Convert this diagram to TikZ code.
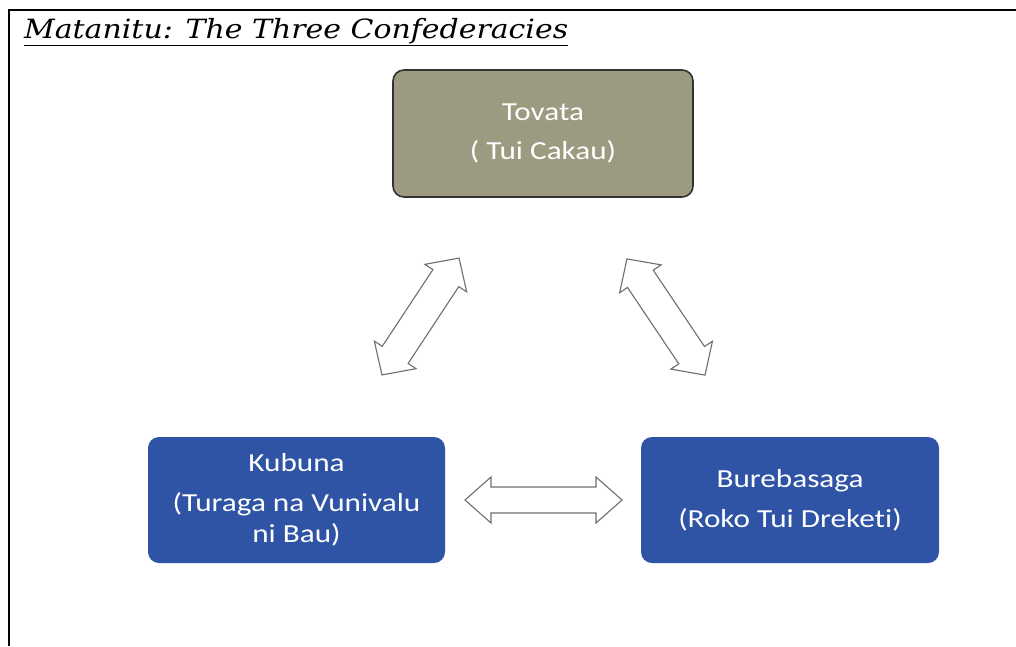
\documentclass[tikz,border=0pt]{standalone}
\usepackage{fontspec}
\setmainfont{Carlito}
\newfontfamily\titlefont[FakeStretch=1.13]{DejaVu Serif}
\newfontfamily\boxfont[FakeStretch=1.2,Ligatures=CommonOff]{Carlito}
\definecolor{boxblue}{RGB}{47,84,166}
\definecolor{olivebox}{RGB}{156,154,128}
\definecolor{arrowgrey}{RGB}{110,110,110}
\newcommand\blockarrow[7]{%
  % #1 name, #2 center, #3 angle, #4 half length, #5 shaft half width, #6 head half width, #7 head length
  \begin{scope}[shift={#2},rotate=#3]
    \coordinate (#1) at (0,0);
    \draw[blockarrowstyle] (-#4,0) -- (-#4+#7,#6) -- (-#4+#7,#5) -- (#4-#7,#5) -- (#4-#7,#6)
      -- (#4,0) -- (#4-#7,-#6) -- (#4-#7,-#5) -- (-#4+#7,-#5) -- (-#4+#7,-#6) -- cycle;
  \end{scope}}
\tikzset{
  blockarrowstyle/.style={draw=arrowgrey, fill=white, line width=1.1pt, line join=miter},
  bluebox/.style={rounded corners=11pt, fill=boxblue, draw=none, text=white,
    font=\boxfont\fontsize{26}{31}\selectfont, align=center, inner sep=0pt},
  olive/.style={rounded corners=11pt, fill=olivebox, draw=black!80, line width=1.6pt, text=white,
    font=\boxfont\fontsize{26}{31}\selectfont, align=center, inner sep=0pt},
  frame/.style={line width=2.2pt, black},
}
\begin{document}
\begin{tikzpicture}[x=1pt,y=-1pt]
\useasboundingbox (0,0) rectangle (1016,646);
% frame
\draw[frame] (9,646) -- (9,10) -- (1016,10);
% title
\node[anchor=base west, inner sep=0pt, font=\titlefont\itshape\fontsize{26.5}{31}\selectfont] (title) at (24,38)
  {\underline{Matanitu: The Three Confederacies}};
% boxes
\node[olive, minimum width=300pt, minimum height=127pt] (tovata) at (543,133.5)
  {Tovata\\[8pt]( Tui Cakau)};
\node[bluebox, minimum width=297pt, minimum height=126pt] (kubuna) at (296.5,500)
  {Kubuna\\[9pt](Turaga na Vunivalu\\ni Bau)};
\node[bluebox, minimum width=298pt, minimum height=126pt] (bure) at (790,500)
  {Burebasaga\\[9pt](Roko Tui Dreketi)};
% arrows
\blockarrow{arrH}{(543.5,500)}{0}{78.5}{13}{23}{26}
\blockarrow{arrL}{(420.5,316.5)}{56.6}{70}{15.5}{25}{24}
\blockarrow{arrR}{(666,317)}{-56.1}{70}{15.5}{25}{24}
\end{tikzpicture}
\end{document}
